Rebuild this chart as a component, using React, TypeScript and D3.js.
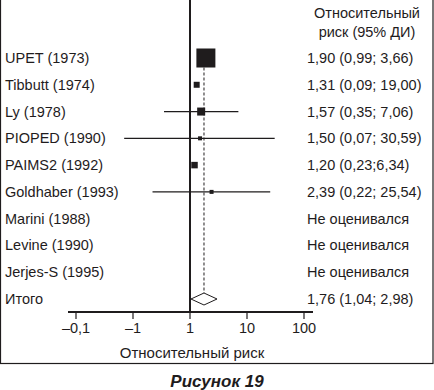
import React from 'react';
import * as d3 from 'd3';

const studies = [
  'UPET (1973)',
  'Tibbutt (1974)',
  'Ly (1978)',
  'PIOPED (1990)',
  'PAIMS2 (1992)',
  'Goldhaber (1993)',
  'Marini (1988)',
  'Levine (1990)',
  'Jerjes-S (1995)',
];
const rr = [1.9, 1.31, 1.57, 1.5, 1.2, 2.39, null, null, null];
const ciLow = [0.99, 0.09, 0.35, 0.07, 0.23, 0.22, null, null, null];
const ciHigh = [3.66, 19.0, 7.06, 30.59, 6.34, 25.54, null, null, null];
// CI whiskers are only printed for some studies in the original figure
const ciShown = [false, false, true, true, false, true, false, false, false];
const weights = [67.5, 6.7, 12.0, 3.0, 7.9, 3.0, 0, 0, 0];
const estimateText = [
  '1,90 (0,99; 3,66)',
  '1,31 (0,09; 19,00)',
  '1,57 (0,35; 7,06)',
  '1,50 (0,07; 30,59)',
  '1,20 (0,23;6,34)',
  '2,39 (0,22; 25,54)',
  'Не оценивался',
  'Не оценивался',
  'Не оценивался',
];
const totalLabel = 'Итого';
const totalRR = 1.76;
const totalLow = 1.04;
const totalHigh = 2.98;
const totalText = '1,76 (1,04; 2,98)';
const tickValues = [0.01, 0.1, 1, 10, 100];
const tickLabels = ['–0,1', '–1', '1', '10', '100'];

const W = 434;
const H = 390;
const FONT = '"Liberation Sans", Arial, sans-serif';
const INK = '#1f1c1d';

export default function App() {
  const rows = [...studies, totalLabel];
  const y = d3.scalePoint<string>().domain(rows).range([58, 299]);
  const x = d3.scaleLog().domain([0.01, 100]).range([76, 304]);
  const box = d3.scaleSqrt().domain([0, d3.max(weights) as number]).range([0, 19]);

  const axisY = 312;
  const ty = y(totalLabel) as number;
  const firstTop = (y(studies[0]) as number) + box(weights[0]) / 2;

  return (
    <svg
      width={W}
      height={H}
      style={{ position: 'absolute', left: 0, top: 0, fontFamily: FONT }}
    >
      <rect x={0} y={0} width={W} height={H} fill="#fff" />
      {/* frame */}
      <rect x={0.5} y={-2} width={432.5} height={365.5} fill="none" stroke={INK} strokeWidth={1.2} />

      {/* header */}
      <text x={367} y={18} textAnchor="middle" fontSize={14.5} fill={INK}>Относительный</text>
      <text x={367} y={37} textAnchor="middle" fontSize={14.5} fill={INK}>риск (95% ДИ)</text>

      {/* line of no effect */}
      <line x1={x(1)} x2={x(1)} y1={0} y2={axisY} stroke={INK} strokeWidth={2} />
      {/* pooled estimate */}
      <line
        x1={x(totalRR)}
        x2={x(totalRR)}
        y1={firstTop}
        y2={ty - 6}
        stroke={INK}
        strokeWidth={1}
        strokeDasharray="3,2"
      />

      {studies.map((s, i) => {
        const cy = y(s) as number;
        const v = rr[i];
        const side = box(weights[i]);
        return (
          <g key={s}>
            <text x={5} y={cy + 5} fontSize={14.5} fill={INK}>{s}</text>
            {v != null && ciShown[i] && (
              <line
                x1={x(ciLow[i] as number)}
                x2={x(ciHigh[i] as number)}
                y1={cy}
                y2={cy}
                stroke={INK}
                strokeWidth={1.2}
              />
            )}
            {v != null && (
              <rect x={x(v) - side / 2} y={cy - side / 2} width={side} height={side} fill={INK} />
            )}
            <text x={307} y={cy + 5} fontSize={14.5} fill={INK}>{estimateText[i]}</text>
          </g>
        );
      })}

      {/* total */}
      <text x={5} y={ty + 5} fontSize={14.5} fill={INK}>{totalLabel}</text>
      <path
        d={`M${x(totalLow)},${ty}L${x(totalRR)},${ty - 6}L${x(totalHigh)},${ty}L${x(totalRR)},${ty + 6}Z`}
        fill="#fff"
        stroke={INK}
        strokeWidth={1}
      />
      <text x={307} y={ty + 5} fontSize={14.5} fill={INK}>{totalText}</text>

      {/* axis */}
      <line x1={x(0.01) - 8} x2={x(100) + 9} y1={axisY} y2={axisY} stroke={INK} strokeWidth={2} />
      {tickValues.map((t, i) => (
        <g key={t}>
          <line x1={x(t)} x2={x(t)} y1={axisY} y2={axisY + 7} stroke={INK} strokeWidth={1.2} />
          <text x={x(t)} y={axisY + 21} textAnchor="middle" fontSize={14.5} fill={INK}>
            {tickLabels[i]}
          </text>
        </g>
      ))}
      <text x={192} y={358} textAnchor="middle" fontSize={15} fill={INK}>Относительный риск</text>

      <text
        x={217}
        y={387}
        textAnchor="middle"
        fontSize={17}
        fontWeight="bold"
        fontStyle="italic"
        fill={INK}
      >
        Рисунок 19
      </text>
    </svg>
  );
}
